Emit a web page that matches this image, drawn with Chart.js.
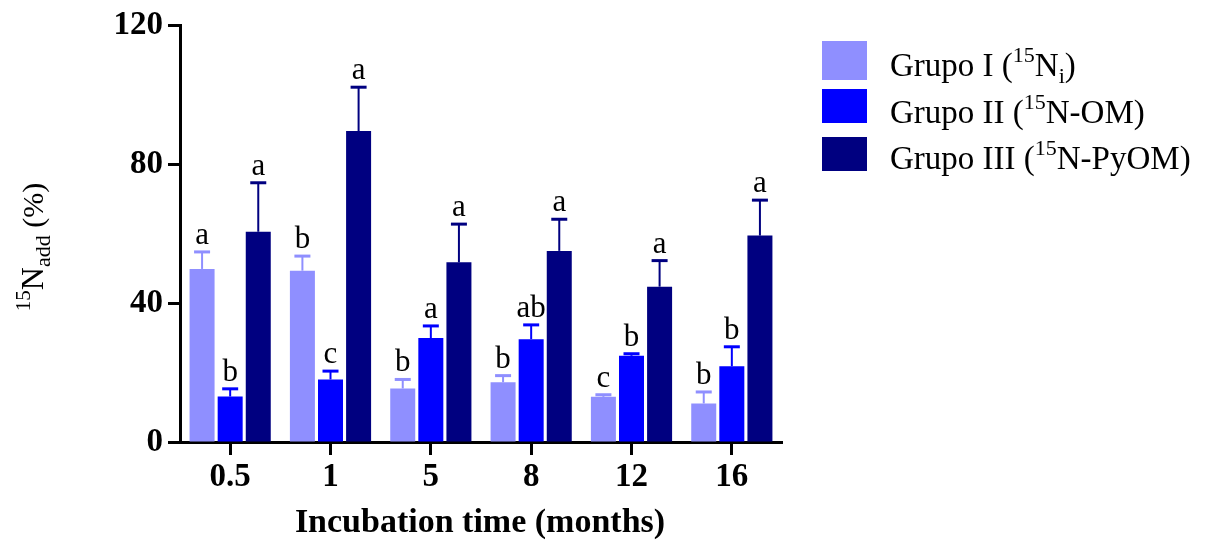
<!DOCTYPE html>
<html>
<head>
<meta charset="utf-8">
<script src="https://cdn.jsdelivr.net/npm/chart.js@4/dist/chart.umd.min.js"></script>
<style>
  html, body { margin: 0; padding: 0; background: #fff; }
  #wrap { width: 1205px; height: 541px; position: relative; }
</style>
</head>
<body>
<div id="wrap"><canvas id="chart" width="1205" height="541"></canvas></div>
<script>
const months = ["0.5", "1", "5", "8", "12", "16"];

const grupoI = [49.8, 49.3, 15.4, 17.2, 13.0, 11.1];
const grupoIErr = [54.7, 53.5, 18.0, 19.1, 13.6, 14.4];
const grupoILetters = ["a", "b", "b", "b", "c", "b"];

const grupoII = [13.1, 18.0, 29.9, 29.6, 24.8, 21.8];
const grupoIIErr = [15.3, 20.4, 33.4, 33.7, 25.4, 27.4];
const grupoIILetters = ["b", "c", "a", "ab", "b", "b"];

const grupoIII = [60.5, 89.5, 51.7, 55.0, 44.7, 59.4];
const grupoIIIErr = [74.6, 102.1, 62.7, 64.1, 52.2, 69.6];
const grupoIIILetters = ["a", "a", "a", "a", "a", "a"];

const yTicks = [0, 40, 80, 120];

const colors = ["#8f8fff", "#0000ff", "#000080"];
const serif = "'Liberation Serif', 'Times New Roman', serif";

// draws a string made of pieces with different sizes / offsets
function richText(ctx, x, y, parts, weight) {
  let cx = x;
  parts.forEach(p => {
    ctx.font = `${weight || "normal"} ${p.size}px ${serif}`;
    ctx.fillText(p.t, cx, y + (p.dy || 0));
    cx += ctx.measureText(p.t).width;
  });
  return cx - x;
}

function richWidth(ctx, parts, weight) {
  let w = 0;
  parts.forEach(p => {
    ctx.font = `${weight || "normal"} ${p.size}px ${serif}`;
    w += ctx.measureText(p.t).width;
  });
  return w;
}

const errorBars = {
  id: "errorBars",
  afterDatasetsDraw(chart) {
    const ctx = chart.ctx;
    const y = chart.scales.y;
    chart.data.datasets.forEach((ds, i) => {
      const meta = chart.getDatasetMeta(i);
      meta.data.forEach((bar, j) => {
        const top = y.getPixelForValue(ds.errTop[j]);
        ctx.save();
        ctx.strokeStyle = ds.backgroundColor;
        ctx.lineWidth = 2;
        ctx.beginPath();
        ctx.moveTo(bar.x, bar.y);
        ctx.lineTo(bar.x, top);
        ctx.stroke();
        ctx.lineWidth = 3;
        ctx.beginPath();
        ctx.moveTo(bar.x - 8, top);
        ctx.lineTo(bar.x + 8, top);
        ctx.stroke();
        ctx.fillStyle = "#000";
        ctx.font = `31px ${serif}`;
        ctx.textAlign = "center";
        ctx.textBaseline = "alphabetic";
        ctx.fillText(ds.letters[j], bar.x, top - 8);
        ctx.restore();
      });
    });
  }
};

const extras = {
  id: "extras",
  afterDraw(chart) {
    const ctx = chart.ctx;
    const area = chart.chartArea;
    ctx.save();
    ctx.fillStyle = "#000";
    ctx.textBaseline = "alphabetic";
    ctx.textAlign = "left";

    // x axis title
    ctx.font = `bold 34px ${serif}`;
    ctx.textAlign = "center";
    ctx.fillText("Incubation time (months)", 480, 532);
    ctx.textAlign = "left";

    // y axis title, rotated
    const yParts = [
      { t: "15", size: 21, dy: -13 },
      { t: "N", size: 32 },
      { t: "add", size: 22, dy: 7 },
      { t: " (%)", size: 30 }
    ];
    const w = richWidth(ctx, yParts);
    ctx.translate(43, 247);
    ctx.rotate(-Math.PI / 2);
    richText(ctx, -w / 2, 0, yParts);
    ctx.setTransform(1, 0, 0, 1, 0, 0);

    // legend
    const rows = [
      { box: [41, 39], base: 76, parts: [
        { t: "Grupo I (", size: 33 }, { t: "15", size: 22, dy: -14 },
        { t: "N", size: 33 }, { t: "i", size: 22, dy: 7 }, { t: ")", size: 33 }] },
      { box: [89, 34], base: 123, parts: [
        { t: "Grupo II (", size: 33 }, { t: "15", size: 22, dy: -14 },
        { t: "N-OM)", size: 33 }] },
      { box: [137, 34], base: 169, parts: [
        { t: "Grupo III (", size: 33 }, { t: "15", size: 22, dy: -14 },
        { t: "N-PyOM)", size: 33 }] }
    ];
    rows.forEach((r, i) => {
      ctx.fillStyle = colors[i];
      ctx.fillRect(822, r.box[0], 45, r.box[1]);
      ctx.fillStyle = "#000";
      richText(ctx, 890, r.base, r.parts);
    });
    ctx.restore();
  }
};

const ctx = document.getElementById("chart").getContext("2d");
new Chart(ctx, {
  type: "bar",
  data: {
    labels: months,
    datasets: [
      { label: "Grupo I", data: grupoI, errTop: grupoIErr, letters: grupoILetters,
        backgroundColor: colors[0] },
      { label: "Grupo II", data: grupoII, errTop: grupoIIErr, letters: grupoIILetters,
        backgroundColor: colors[1] },
      { label: "Grupo III", data: grupoIII, errTop: grupoIIIErr, letters: grupoIIILetters,
        backgroundColor: colors[2] }
    ]
  },
  options: {
    responsive: false,
    animation: false,
    barPercentage: 0.89,
    categoryPercentage: 0.84,
    layout: { padding: { left: 0, top: 25, right: 423, bottom: 0 } },
    plugins: {
      legend: { display: false },
      tooltip: { enabled: false }
    },
    scales: {
      x: {
        offset: true,
        grid: { display: true, offset: false, drawOnChartArea: false,
          tickLength: 13, tickWidth: 3, tickColor: "#000" },
        border: { display: true, color: "#000", width: 3 },
        ticks: { color: "#000", padding: 3, font: { family: serif, size: 33, weight: "bold" } },
        afterFit(scale) { scale.height = 99; }
      },
      y: {
        min: 0,
        max: 120,
        afterBuildTicks(scale) { scale.ticks = yTicks.map(v => ({ value: v })); },
        grid: { display: true, drawOnChartArea: false,
          tickLength: 12, tickWidth: 3, tickColor: "#000" },
        border: { display: true, color: "#000", width: 3 },
        ticks: { color: "#000", padding: 5, font: { family: serif, size: 33, weight: "bold" } },
        afterFit(scale) { scale.width = 180; }
      }
    }
  },
  plugins: [errorBars, extras]
});
</script>
</body>
</html>
